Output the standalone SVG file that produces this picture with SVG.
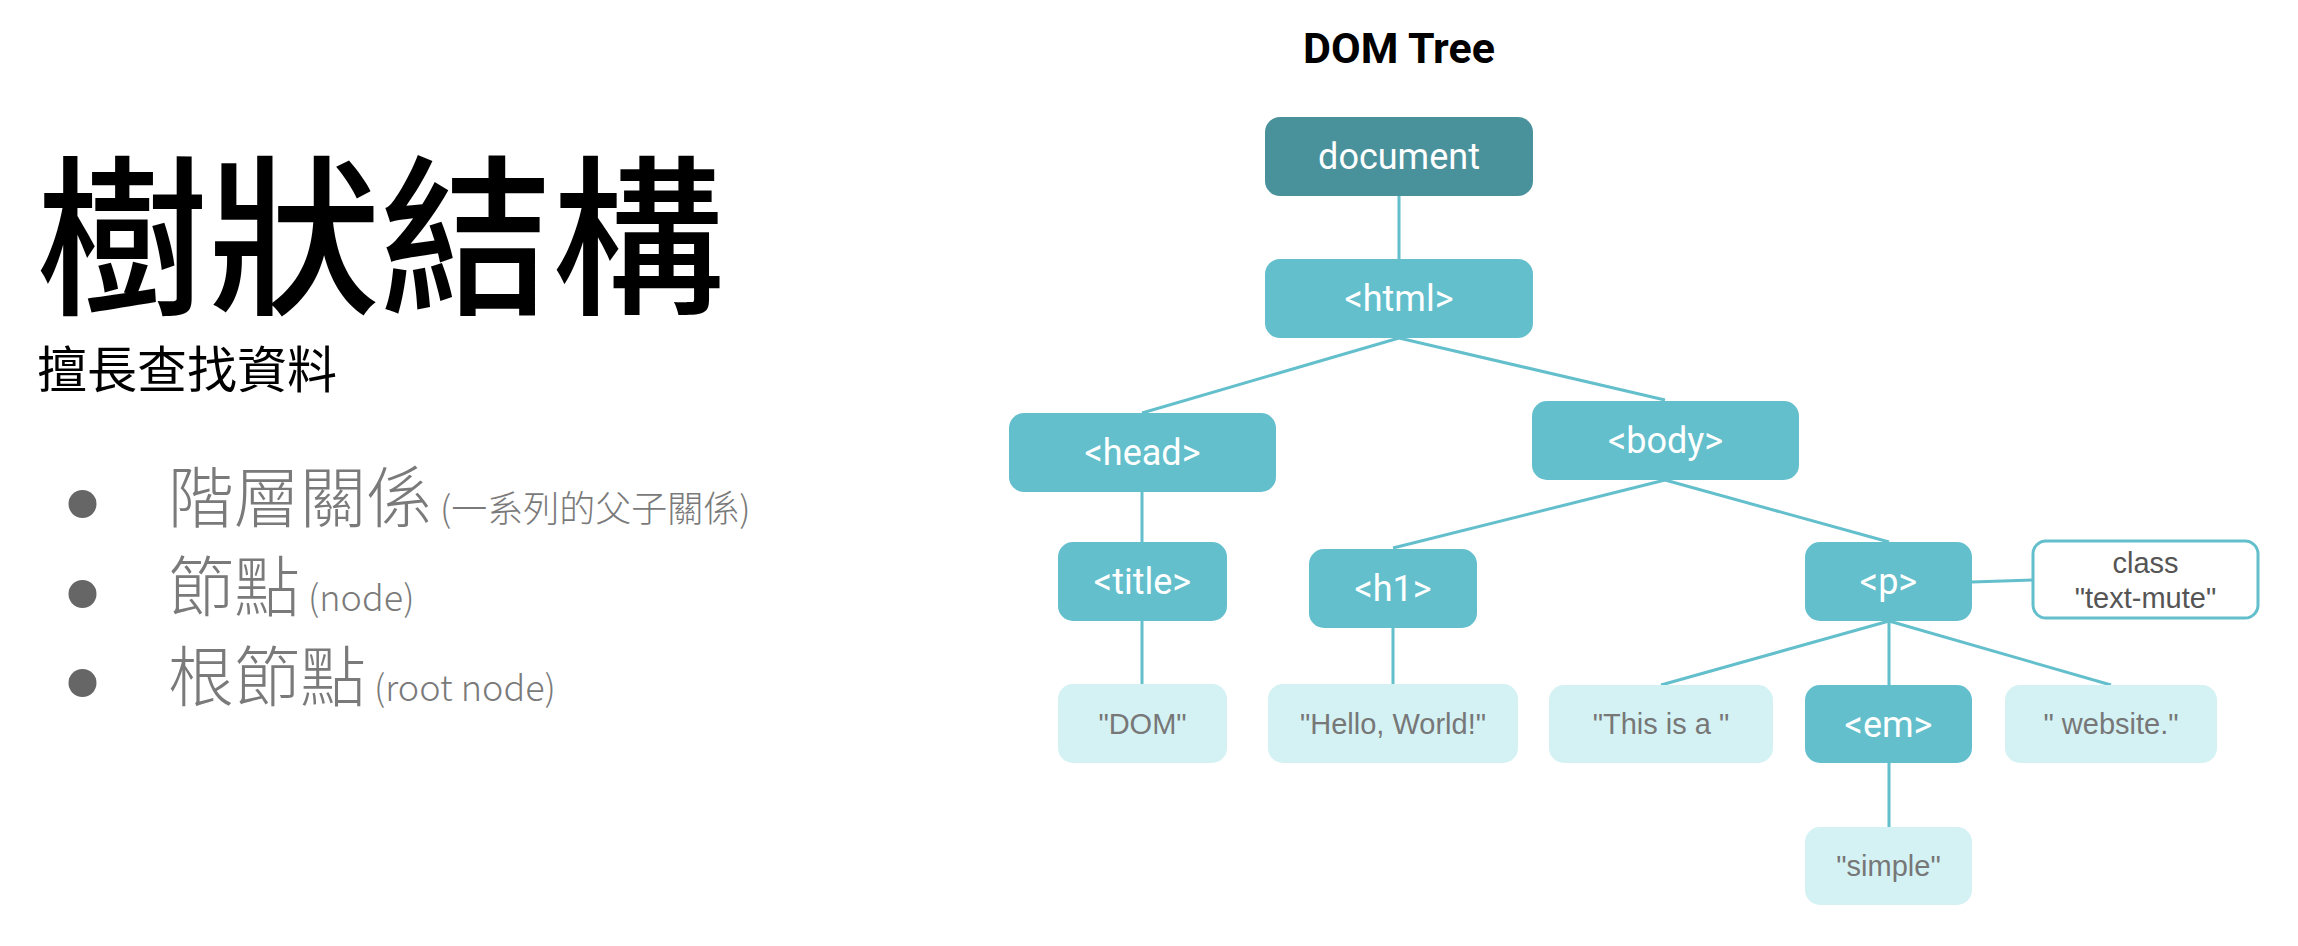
<svg xmlns="http://www.w3.org/2000/svg" width="2298" height="946" viewBox="0 0 2298 946">
<style>
.bg{fill:#ffffff}
.dark{fill:#4a929b}
.teal{fill:#63bfcc}
.light{fill:#d4f2f4}
.attr{fill:#ffffff;stroke:#63bfcc;stroke-width:3}
.lbl{font-family:Roboto,"Liberation Sans",sans-serif;font-size:36px;fill:#ffffff;text-anchor:middle}
.txt{font-family:"Liberation Sans",Arial,sans-serif;font-size:29px;fill:#777777;text-anchor:middle}
.atxt{font-family:"Liberation Sans",Arial,sans-serif;font-size:29px;fill:#555555;text-anchor:middle}
.conn line{stroke:#63bfcc;stroke-width:3}
.cjk{font-family:"Noto Sans CJK TC","Noto Sans CJK SC",sans-serif}
.gray{fill:#7a7a7a;font-weight:300}
.dot{fill:#666666}
</style>
<rect class="bg" x="0" y="0" width="2298" height="946"/>
<g id="left-text">
<text class="cjk" x="36" y="301" font-size="172" font-weight="500" fill="#000000">樹狀結構</text>
<text class="cjk" x="37" y="388" font-size="50" fill="#000000">擅長查找資料</text>
<circle class="dot" cx="82.5" cy="504" r="14"/>
<circle class="dot" cx="82.5" cy="594" r="14"/>
<circle class="dot" cx="82.5" cy="683" r="14"/>
<text class="cjk gray" x="168" y="522" font-size="66">階層關係<tspan font-size="36"> (一系列的父子關係)</tspan></text>
<text class="cjk gray" x="168" y="611" font-size="66">節點<tspan font-size="36"> (node)</tspan></text>
<text class="cjk gray" x="168" y="701" font-size="66">根節點<tspan font-size="36"> (root node)</tspan></text>
</g>
<text x="1399" y="63" font-family="Roboto,'Liberation Sans',sans-serif" font-size="43" font-weight="bold" fill="#000000" text-anchor="middle">DOM Tree</text>
<g id="connectors" class="conn">
<line x1="1399" y1="196" x2="1399" y2="259"/>
<line x1="1399" y1="338" x2="1142" y2="413"/>
<line x1="1399" y1="338" x2="1665" y2="400"/>
<line x1="1142" y1="492" x2="1142" y2="542"/>
<line x1="1142" y1="621" x2="1142" y2="684"/>
<line x1="1665" y1="480" x2="1393" y2="548"/>
<line x1="1665" y1="480" x2="1889" y2="542"/>
<line x1="1393" y1="628" x2="1393" y2="684"/>
<line x1="1972" y1="582" x2="2033" y2="580"/>
<line x1="1889" y1="621" x2="1661" y2="685"/>
<line x1="1889" y1="621" x2="1889" y2="685"/>
<line x1="1889" y1="621" x2="2111" y2="685"/>
<line x1="1889" y1="763" x2="1889" y2="827"/>
</g>
<g id="node-document"><rect class="dark" x="1265" y="117" width="268" height="79" rx="15"/><text class="lbl" x="1399" y="169">document</text></g>
<g id="node-html"><rect class="teal" x="1265" y="259" width="268" height="79" rx="15"/><text class="lbl" x="1399" y="311">&lt;html&gt;</text></g>
<g id="node-head"><rect class="teal" x="1009" y="413" width="267" height="79" rx="15"/><text class="lbl" x="1142.5" y="465">&lt;head&gt;</text></g>
<g id="node-body"><rect class="teal" x="1532" y="401" width="267" height="79" rx="15"/><text class="lbl" x="1665.5" y="453">&lt;body&gt;</text></g>
<g id="node-title"><rect class="teal" x="1058" y="542" width="169" height="79" rx="15"/><text class="lbl" x="1142.5" y="594">&lt;title&gt;</text></g>
<g id="node-h1"><rect class="teal" x="1309" y="549" width="168" height="79" rx="15"/><text class="lbl" x="1393" y="601">&lt;h1&gt;</text></g>
<g id="node-p"><rect class="teal" x="1805" y="542" width="167" height="79" rx="15"/><text class="lbl" x="1888.5" y="594">&lt;p&gt;</text></g>
<g id="node-class"><rect class="attr" x="2033" y="541" width="225" height="77" rx="13"/><text class="atxt" x="2145.5" y="573">class</text><text class="atxt" x="2145.5" y="608">"text-mute"</text></g>
<g id="node-dom"><rect class="light" x="1058" y="684" width="169" height="79" rx="15"/><text class="txt" x="1142.5" y="734">"DOM"</text></g>
<g id="node-hello"><rect class="light" x="1268" y="684" width="250" height="79" rx="15"/><text class="txt" x="1393" y="734">"Hello, World!"</text></g>
<g id="node-this"><rect class="light" x="1549" y="685" width="224" height="78" rx="15"/><text class="txt" x="1661" y="734">"This is a "</text></g>
<g id="node-em"><rect class="teal" x="1805" y="685" width="167" height="78" rx="15"/><text class="lbl" x="1888.5" y="737">&lt;em&gt;</text></g>
<g id="node-website"><rect class="light" x="2005" y="685" width="212" height="78" rx="15"/><text class="txt" x="2111" y="734">" website."</text></g>
<g id="node-simple"><rect class="light" x="1805" y="827" width="167" height="78" rx="15"/><text class="txt" x="1888.5" y="876">"simple"</text></g>
</svg>
